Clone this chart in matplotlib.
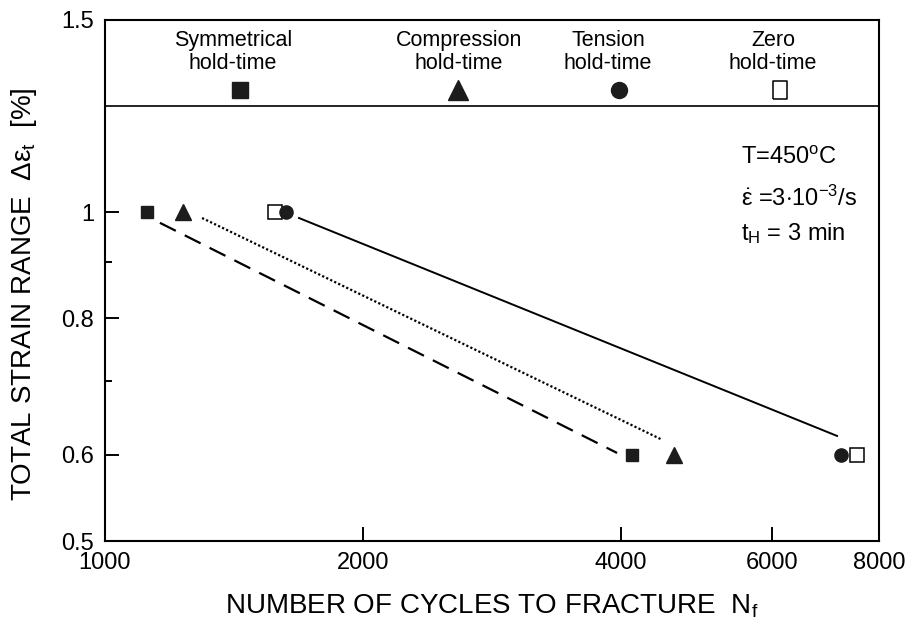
import matplotlib
matplotlib.use("Agg")
import matplotlib.pyplot as plt
from matplotlib.ticker import FixedLocator, NullLocator, NullFormatter

plt.rcParams['font.family'] = ['Liberation Sans', 'DejaVu Sans']
plt.rcParams['mathtext.fontset'] = 'custom'
plt.rcParams['mathtext.rm'] = 'Liberation Sans'
plt.rcParams['mathtext.it'] = 'Liberation Sans'
plt.rcParams['mathtext.bf'] = 'Liberation Sans:bold'

# Test results: strain range [%] vs cycles to fracture
strain_levels = [1.0, 0.6]
n_symmetrical = [1120, 4120]
n_compression = [1233, 4613]
n_tension = [1626, 7225]
n_zero = [1579, 7538]

# Fitted lines (end points)
fit_sym_n = [1159, 3958]
fit_sym_eps = [0.978, 0.602]
fit_comp_n = [1298, 4467]
fit_comp_eps = [0.988, 0.619]
fit_tens_n = [1684, 7148]
fit_tens_eps = [0.988, 0.624]

x_ticks = [1000, 2000, 4000, 6000, 8000]
x_tick_labels = ["1000", "2000", "4000", "6000", "8000"]
y_ticks = [0.5, 0.6, 0.8, 1.0, 1.5]
y_tick_labels = ["0.5", "0.6", "0.8", "1", "1.5"]
y_minor_ticks = [0.7, 0.9]

legend_names = ["Symmetrical\nhold-time", "Compression\nhold-time",
                "Tension\nhold-time", "Zero\nhold-time"]
legend_divider = 1.25

FS_LEG = 15.5
FS_TICK = 17
FS_NOTE = 17
FS_LABEL = 20
dark = '#1c1c1c'

fig = plt.figure(figsize=(9.07, 6.24), dpi=100)
ax = fig.add_axes([105 / 907, 1 - 541 / 624, 774 / 907, 521 / 624])

ax.set_xscale('log')
ax.set_yscale('log')
ax.set_xlim(1000, 8000)
ax.set_ylim(0.5, 1.5)

# fitted lines
ax.plot(fit_sym_n, fit_sym_eps, color='black', lw=1.6, linestyle=(0, (8, 4.5)))
ax.plot(fit_comp_n, fit_comp_eps, color='black', lw=1.6, linestyle=(0, (1, 1)))
ax.plot(fit_tens_n, fit_tens_eps, color='black', lw=1.4, linestyle='-')

# data points
sym_style = dict(marker='s', ms=8.5, mfc=dark, mec=dark, ls='none')
comp_style = dict(marker='^', ms=11, mfc=dark, mec=dark, ls='none')
tens_style = dict(marker='o', ms=9.5, mfc=dark, mec=dark, ls='none')
zero_style = dict(marker='s', ms=9.5, mfc='white', mec='black', mew=1.1, ls='none')

ax.plot(n_zero, strain_levels, zorder=3, **zero_style)
ax.plot(n_symmetrical, strain_levels, zorder=4, **sym_style)
ax.plot(n_compression, strain_levels, zorder=4, **comp_style)
ax.plot(n_tension, strain_levels, zorder=4, **tens_style)

# legend strip at the top of the axes
ax.axhline(legend_divider, color='black', lw=1.2)
tall_rect = [(-0.8, -1), (0.8, -1), (0.8, 1), (-0.8, 1), (-0.8, -1)]
legend_text_x = [0.165, 0.457, 0.650, 0.863]
legend_mark_x = [0.174, 0.456, 0.664, 0.872]
legend_styles = [dict(sym_style, ms=11),
                 dict(comp_style, ms=14),
                 dict(tens_style, ms=11.5),
                 dict(zero_style, marker=tall_rect, ms=13)]
for name, tx, mx, st in zip(legend_names, legend_text_x, legend_mark_x, legend_styles):
    ax.text(tx, 0.939, name, transform=ax.transAxes, ha='center',
            va='center', fontsize=FS_LEG, linespacing=1.1)
    ax.plot([mx], [0.866], transform=ax.transAxes, clip_on=False, **st)

# test conditions
ax.text(0.822, 0.735, r"T=450$^{\mathrm{o}}$C", transform=ax.transAxes,
        ha='left', va='center', fontsize=FS_NOTE)
ax.text(0.822, 0.657, r"$\dot{\varepsilon}$ =3$\cdot$10$^{\mathrm{-3}}$/s",
        transform=ax.transAxes, ha='left', va='center', fontsize=FS_NOTE)
ax.text(0.822, 0.590, r"t$_{\mathrm{H}}$ = 3 min", transform=ax.transAxes,
        ha='left', va='center', fontsize=FS_NOTE)

# axes, ticks
ax.xaxis.set_major_locator(FixedLocator(x_ticks))
ax.xaxis.set_minor_locator(NullLocator())
ax.set_xticklabels(x_tick_labels)
ax.yaxis.set_major_locator(FixedLocator(y_ticks))
ax.yaxis.set_minor_locator(FixedLocator(y_minor_ticks))
ax.yaxis.set_minor_formatter(NullFormatter())
ax.set_yticklabels(y_tick_labels)

ax.tick_params(which='major', direction='in', length=10, width=1.4,
               labelsize=FS_TICK, pad=8)
ax.tick_params(which='minor', direction='in', length=5, width=1.4)
for sp in ax.spines.values():
    sp.set_linewidth(1.5)

ax.set_xlabel(r"NUMBER OF CYCLES TO FRACTURE  N$_{\mathrm{f}}$", fontsize=FS_LABEL)
ax.xaxis.set_label_coords(0.5, -0.098)
ax.set_ylabel(r"TOTAL STRAIN RANGE  Δε$_{\mathrm{t}}$  [%]", fontsize=FS_LABEL)
ax.yaxis.set_label_coords(-0.085, 0.474)

fig.savefig("out.png", dpi=100)
